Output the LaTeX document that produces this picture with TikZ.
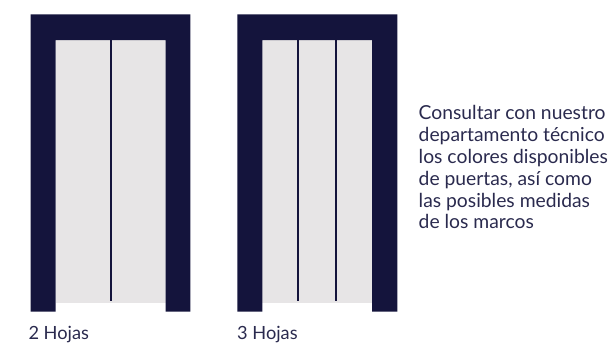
\documentclass[tikz,border=0pt]{standalone}
\usepackage{fontspec}
\setmainfont{Lato}
\definecolor{frameblue}{HTML}{14143C}
\definecolor{doorgrey}{HTML}{E7E5E6}
\definecolor{txtblue}{HTML}{2A2A4E}
\tikzset{
  framepart/.style={fill=frameblue,draw=none},
  doorpart/.style={fill=doorgrey,draw=none},
  doorline/.style={draw=frameblue,line width=2.3pt},
  lab/.style={text=txtblue,font=\fontsize{18.2}{21.8}\selectfont,inner sep=0pt,anchor=base west},
  notelab/.style={text=txtblue,font=\fontsize{19.3}{21.8}\selectfont,inner sep=0pt,anchor=north west,align=left},
}
\begin{document}
\begin{tikzpicture}[x=1pt,y=-1pt]
\useasboundingbox (0,0) rectangle (608,343);
% left door
\fill[doorpart] (55.7,40) rectangle (165.7,302.5);
\fill[framepart] (30.7,14.3) -- (190.3,14.3) -- (190.3,311.7) -- (165.7,311.7) -- (165.7,40) -- (55.7,40) -- (55.7,311.7) -- (30.7,311.7) -- cycle;
\draw[doorline] (110.7,40) -- (110.7,301);
% right door
\fill[doorpart] (262.3,40) rectangle (372,302.5);
\fill[framepart] (237.3,14.3) -- (397.3,14.3) -- (397.3,311.7) -- (372,311.7) -- (372,40) -- (262.3,40) -- (262.3,311.7) -- (237.3,311.7) -- cycle;
\draw[doorline] (298.3,40) -- (298.3,301);
\draw[doorline] (336,40) -- (336,301);
% labels
\node[lab] (hojas2) at (28.3,339) {2 Hojas};
\node[lab] (hojas3) at (237,339) {3 Hojas};
\node[notelab] (nota) at (418.5,105.5) {Consultar con nuestro\\departamento técnico\\los colores disponibles\\de puertas, así como\\las posibles medidas\\de los marcos};
\end{tikzpicture}
\end{document}
